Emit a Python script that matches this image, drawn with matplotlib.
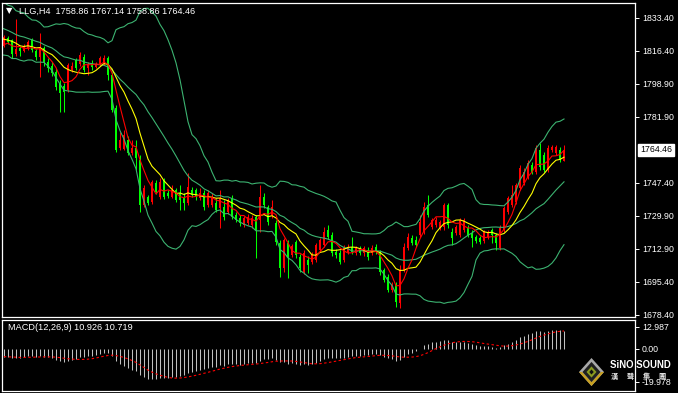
import matplotlib.pyplot as plt
import matplotlib.transforms as mtransforms
from matplotlib.patches import Polygon
import numpy as np
import pandas as pd

plt.rcParams['font.family'] = ['Liberation Sans', 'DejaVu Sans']

# closes before the first visible bar, only used to warm up the indicators
prior_close = [1845, 1848, 1843, 1846, 1849, 1843, 1840, 1844, 1846, 1840,
               1837, 1840, 1843, 1838, 1841, 1839, 1838, 1835, 1840, 1832,
               1828, 1836, 1833, 1826, 1830, 1834, 1825, 1821, 1827, 1830,
               1822, 1817, 1822, 1819, 1816]

opens = [1818.8, 1823.0, 1821.9, 1814.6, 1817.7, 1816.1, 1817.7, 1821.9, 1816.1, 1813.0,
         1817.7, 1810.4, 1808.3, 1805.2, 1798.9, 1797.8, 1795.8, 1806.2, 1811.4, 1809.3,
         1813.0, 1807.3, 1809.9, 1807.8, 1809.4, 1809.9, 1812.5, 1803.6, 1786.3, 1765.4,
         1764.9, 1769.6, 1762.8, 1765.4, 1759.2, 1735.6, 1739.8, 1737.2, 1747.2, 1739.8,
         1748.7, 1741.9, 1739.8, 1743.5, 1741.9, 1739.3, 1736.7, 1743.5, 1743.5, 1739.3,
         1741.9, 1735.6, 1735.6, 1736.7, 1734.1, 1734.6, 1732.0, 1739.3, 1730.4, 1728.8,
         1725.2, 1726.2, 1725.2, 1729.4, 1727.8, 1739.8, 1734.6, 1730.4, 1726.2, 1715.8,
         1702.7, 1715.8, 1709.5, 1716.3, 1708.5, 1700.6, 1706.9, 1705.9, 1706.9, 1712.1,
         1714.7, 1722.6, 1720.0, 1711.1, 1710.6, 1706.9, 1711.1, 1713.7, 1710.6, 1713.2,
         1710.6, 1712.1, 1710.6, 1713.7, 1711.1, 1701.7, 1698.0, 1691.2, 1693.8, 1684.4,
         1701.7, 1713.2, 1718.4, 1717.3, 1720.0, 1721.5, 1735.6, 1724.1, 1725.2, 1723.6,
         1724.1, 1735.6, 1721.5, 1721.0, 1720.0, 1722.6, 1723.6, 1721.0, 1718.9, 1718.4,
         1716.8, 1718.9, 1722.6, 1720.0, 1713.2, 1722.6, 1732.0, 1735.6, 1737.2, 1744.5,
         1747.2, 1750.3, 1756.5, 1752.9, 1764.4, 1761.8, 1753.9, 1764.4, 1762.8, 1764.4,
         1758.86]

highs = [1824.5, 1824.0, 1822.4, 1832.9, 1819.3, 1819.8, 1821.9, 1823.0, 1817.2, 1825.6,
         1818.8, 1812.5, 1810.4, 1807.3, 1801.0, 1799.4, 1809.9, 1810.4, 1812.5, 1815.6,
         1814.6, 1810.4, 1811.4, 1810.4, 1813.5, 1814.0, 1813.5, 1805.2, 1787.9, 1773.8,
         1774.8, 1771.7, 1769.6, 1769.6, 1761.8, 1746.1, 1740.9, 1748.7, 1748.7, 1749.7,
         1749.7, 1743.5, 1746.1, 1744.5, 1746.1, 1741.9, 1752.4, 1745.0, 1744.5, 1744.5,
         1743.5, 1743.5, 1741.9, 1739.3, 1743.5, 1738.3, 1739.3, 1740.9, 1732.0, 1730.4,
         1729.9, 1731.0, 1730.4, 1730.4, 1746.1, 1741.9, 1735.6, 1738.3, 1727.8, 1717.3,
         1718.4, 1717.3, 1715.3, 1717.3, 1710.1, 1712.1, 1708.9, 1711.1, 1715.8, 1718.4,
         1724.1, 1725.2, 1721.5, 1712.7, 1712.1, 1714.7, 1715.3, 1718.9, 1714.2, 1714.2,
         1714.2, 1713.7, 1714.7, 1715.3, 1712.1, 1702.7, 1699.6, 1695.4, 1695.4, 1704.3,
         1715.8, 1721.0, 1720.0, 1719.4, 1730.4, 1737.2, 1740.9, 1728.8, 1729.4, 1727.8,
         1736.7, 1736.7, 1723.6, 1725.2, 1728.8, 1728.8, 1725.2, 1722.6, 1720.0, 1719.4,
         1722.6, 1722.6, 1723.6, 1721.0, 1725.2, 1735.1, 1740.3, 1746.1, 1747.2, 1756.5,
         1755.0, 1759.2, 1758.1, 1767.0, 1768.0, 1763.3, 1767.0, 1767.0, 1767.0, 1766.0,
         1767.14]

lows = [1818.2, 1819.8, 1812.5, 1813.5, 1813.5, 1815.6, 1816.7, 1815.6, 1811.4, 1802.6,
        1808.3, 1805.2, 1803.1, 1795.8, 1784.3, 1784.3, 1794.7, 1805.2, 1806.2, 1808.3,
        1805.2, 1803.6, 1806.2, 1807.3, 1808.3, 1808.8, 1801.0, 1784.3, 1763.3, 1764.4,
        1764.4, 1761.8, 1761.8, 1753.9, 1732.0, 1734.6, 1735.6, 1736.2, 1741.4, 1738.8,
        1738.8, 1739.3, 1739.3, 1737.2, 1733.0, 1733.0, 1735.6, 1739.8, 1738.3, 1738.3,
        1733.0, 1734.6, 1734.6, 1732.0, 1723.6, 1727.8, 1731.0, 1728.3, 1726.8, 1724.7,
        1724.1, 1725.2, 1723.6, 1707.9, 1721.5, 1734.1, 1725.2, 1728.8, 1714.7, 1698.0,
        1700.6, 1697.5, 1708.5, 1707.9, 1700.6, 1699.6, 1700.1, 1704.8, 1705.9, 1711.1,
        1713.7, 1717.9, 1709.0, 1707.9, 1704.8, 1705.9, 1710.0, 1710.0, 1709.5, 1709.5,
        1709.0, 1706.9, 1709.5, 1710.0, 1699.0, 1695.4, 1690.2, 1690.2, 1682.3, 1681.8,
        1700.6, 1712.1, 1714.7, 1713.7, 1718.9, 1720.5, 1729.4, 1723.1, 1724.1, 1722.6,
        1722.6, 1723.6, 1714.7, 1720.0, 1718.9, 1721.5, 1718.9, 1713.7, 1715.8, 1715.3,
        1715.8, 1717.9, 1715.8, 1712.1, 1712.1, 1721.5, 1731.0, 1734.6, 1736.2, 1743.5,
        1746.1, 1749.3, 1751.8, 1751.8, 1753.9, 1752.9, 1752.9, 1763.3, 1761.8, 1758.1,
        1758.86]

closes = [1823.5, 1820.8, 1814.6, 1817.2, 1816.1, 1818.8, 1820.8, 1816.7, 1813.0, 1817.7,
          1810.4, 1807.3, 1804.6, 1797.3, 1794.2, 1794.7, 1808.8, 1808.3, 1807.3, 1814.0,
          1806.2, 1809.4, 1807.8, 1809.4, 1812.5, 1812.5, 1803.6, 1785.3, 1764.4, 1769.6,
          1772.2, 1762.8, 1765.4, 1760.2, 1735.6, 1744.5, 1736.7, 1747.7, 1742.4, 1747.7,
          1739.8, 1740.3, 1743.5, 1738.3, 1738.3, 1736.7, 1745.0, 1740.9, 1739.8, 1741.9,
          1734.6, 1741.9, 1739.8, 1733.0, 1739.3, 1729.4, 1738.3, 1729.4, 1727.8, 1726.2,
          1728.8, 1729.4, 1728.8, 1722.6, 1739.8, 1735.6, 1726.8, 1734.6, 1716.3, 1702.7,
          1717.3, 1708.5, 1714.2, 1709.5, 1702.7, 1710.6, 1704.3, 1709.5, 1714.7, 1717.3,
          1721.5, 1718.9, 1710.6, 1709.5, 1705.9, 1713.2, 1713.7, 1711.1, 1713.2, 1710.6,
          1713.2, 1708.5, 1713.2, 1711.1, 1700.6, 1696.4, 1691.2, 1693.8, 1684.9, 1701.7,
          1713.7, 1718.9, 1715.8, 1714.7, 1726.8, 1734.6, 1730.4, 1727.8, 1727.8, 1726.8,
          1735.6, 1725.2, 1718.4, 1724.1, 1727.8, 1727.8, 1720.0, 1718.4, 1716.8, 1716.3,
          1721.5, 1721.0, 1720.0, 1715.8, 1723.6, 1734.1, 1739.3, 1740.9, 1746.1, 1755.0,
          1752.9, 1757.6, 1752.9, 1765.4, 1755.5, 1753.9, 1765.4, 1766.0, 1766.0, 1759.2,
          1764.46]

price_ticks = [1833.40, 1816.40, 1798.90, 1781.90, 1747.40, 1729.90, 1712.90, 1695.40, 1678.40]
last_price = 1764.46
macd_ticks = [12.987, 0.0, -19.978]
macd_labels = ['12.987', '0.00', '-19.978']
title = 'LLG,H4  1758.86 1767.14 1758.86 1764.46'
macd_title = 'MACD(12,26,9) 10.926 10.719'

o, h, l, c = map(np.array, (opens, highs, lows, closes))
x = np.arange(len(c))

## indicators: MA5 red, MA10 yellow, Bollinger(20,2), MACD(12,26,9)
s = pd.Series(prior_close + closes, dtype=float)
xs = np.arange(len(s)) - len(prior_close)
ma5 = s.rolling(5).mean()
ma10 = s.rolling(10).mean()
mid = s.rolling(20).mean()
sd = s.rolling(20).std(ddof=0)
macd = s.ewm(span=12, adjust=False).mean() - s.ewm(span=26, adjust=False).mean()
signal = macd.rolling(9).mean()

W, H = 678, 393
fig = plt.figure(figsize=(W / 100, H / 100), dpi=100, facecolor='black')
ax = fig.add_axes([2 / W, 1 - 317 / H, 633 / W, 314 / H], facecolor='black')
ax2 = fig.add_axes([2 / W, 2 / H, 633 / W, 71 / H], facecolor='black')

up = c >= o
col = np.where(up, '#ff0000', '#00ff00')
ax.vlines(x, l, h, colors=col, lw=0.75)
ax.bar(x, np.maximum(np.abs(c - o), 0.45), bottom=np.minimum(o, c),
       width=0.72, color=col, linewidth=0)

bb = '#3cb371'
for band in (mid + 2 * sd, mid, mid - 2 * sd):
    ax.plot(xs, band, color=bb, lw=0.8)
ax.plot(xs, ma10, color='#ffff00', lw=0.8)
ax.plot(xs, ma5, color='#ff0000', lw=0.8)

xlim = (-0.5, -0.5 + 633 / 4)
ax.set_xlim(*xlim)
ax.set_ylim(1677.10, 1841.23)
ax.yaxis.tick_right()
ax.set_yticks(price_ticks)
ax.set_yticklabels(['%.2f' % t for t in price_ticks])
ax.set_xticks([])
ax.tick_params(axis='y', colors='white', labelsize=6.3, length=3, width=0.7, pad=2)

trans = mtransforms.blended_transform_factory(ax.transAxes, ax.transData)
ax.text(1.008, last_price, '%.2f' % last_price, transform=trans, ha='left', va='center',
        fontsize=6.3, color='black',
        bbox=dict(boxstyle='square,pad=0.2', fc='white', ec='white'))

## MACD pane
ax2.vlines(xs, 0, macd, colors='#c0c0c0', lw=0.75)
ax2.plot(xs, signal, color='#ff0000', lw=0.8, ls=(0, (2.2, 2.2)))
ax2.set_xlim(*xlim)
ax2.set_ylim(-25.45, 17.07)
ax2.yaxis.tick_right()
ax2.set_yticks(macd_ticks)
ax2.set_yticklabels(macd_labels)
ax2.set_xticks([])
ax2.tick_params(axis='y', colors='white', labelsize=6.3, length=3, width=0.7, pad=2)

for a in (ax, ax2):
    for sp in a.spines.values():
        sp.set_color('white')
        sp.set_linewidth(0.9)

fig.text(6 / W, 1 - 11 / H, '\u25bc', color='white', fontsize=6, va='center', ha='left',
         family=['DejaVu Sans'])
fig.text(19 / W, 1 - 11 / H, title, color='white', fontsize=6.6, va='center', ha='left')
fig.text(8 / W, 1 - 328 / H, macd_title, color='white', fontsize=6.6, va='center', ha='left')

## logo
logo = fig.add_axes([579 / W, 1 - 386 / H, 25 / W, 28 / H])
logo.set_xlim(-1, 1)
logo.set_ylim(-1, 1)
logo.axis('off')
logo.add_patch(Polygon([(0, 1), (1, 0), (0, -1), (-1, 0)], fc='#a8a8a8'))
logo.add_patch(Polygon([(-1, 0), (0, -1), (1, 0), (0.75, 0), (0, -0.72), (-0.75, 0)], fc='#c8a020'))
logo.add_patch(Polygon([(0, 0.72), (0.72, 0), (0, -0.72), (-0.72, 0)], fc='#202020'))
logo.add_patch(Polygon([(0, 0.4), (0.4, 0), (0, -0.4), (-0.4, 0)], fc='#8a9a20'))
logo.add_patch(Polygon([(0, 0.18), (0.18, 0), (0, -0.18), (-0.18, 0)], fc='#101010'))

fig.text(610 / W, 1 - 365 / H, 'SiNO SOUND', color='white', fontsize=6.9,
         weight='bold', va='center', ha='left')
for k, ch in enumerate('漢聲集團'):
    fig.text((614 + 16 * k) / W, 1 - 376 / H, ch, color='#e0e0e0', fontsize=5.2,
             weight='bold', va='center', ha='center',
             family=['Noto Sans CJK TC', 'DejaVu Sans'])

fig.savefig('out.png', dpi=100, facecolor='black')
